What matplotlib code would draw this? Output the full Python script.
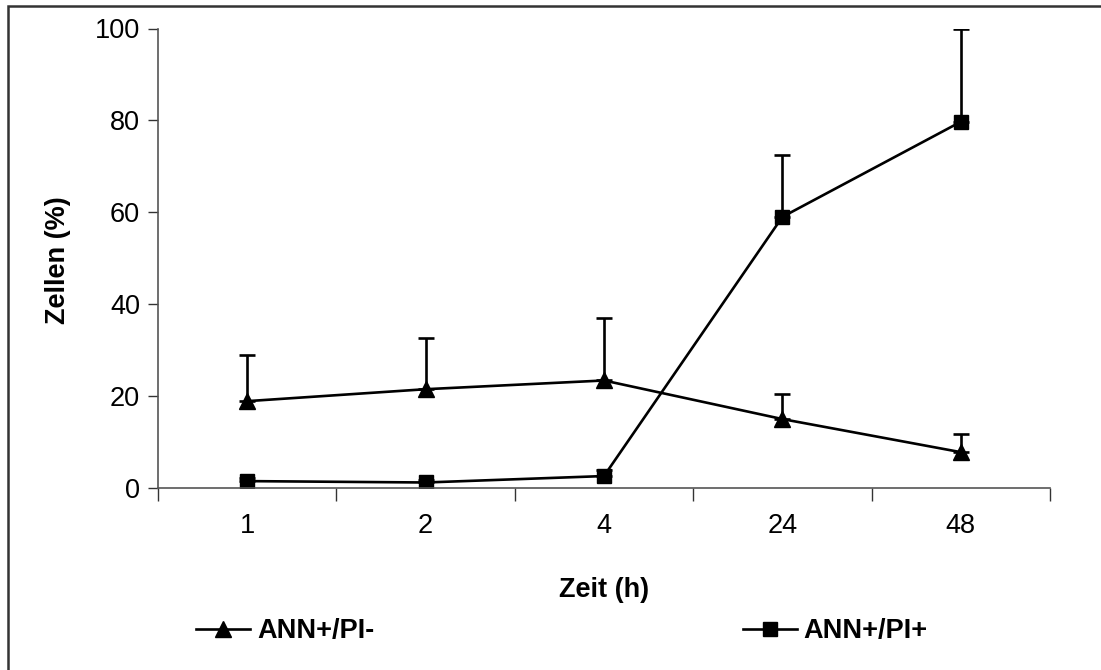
import numpy as np
import matplotlib.pyplot as plt
from matplotlib.patches import Rectangle

plt.rcParams['font.family'] = ['Liberation Sans', 'DejaVu Sans']

zeit = ['1', '2', '4', '24', '48']
pi_neg = [18.9, 21.5, 23.4, 15.0, 7.8]
pi_neg_err = [10.0, 11.2, 13.7, 5.4, 3.9]
pi_pos = [1.5, 1.2, 2.6, 59.0, 79.7]
pi_pos_err = [0.6, 0.5, 1.4, 13.5, 20.3]

fs = 19.5

fig = plt.figure(figsize=(11.01, 6.70), dpi=100)
ax = fig.add_axes([158 / 1101, 1 - 488 / 670, 892 / 1101, 459.5 / 670])

x = np.arange(len(zeit))
style = dict(color='black', lw=1.9, capsize=6, capthick=1.9, elinewidth=1.9)
c1 = ax.errorbar(x, pi_neg, yerr=[np.zeros(len(x)), pi_neg_err], marker='^',
                 markersize=12, label='ANN+/PI-', **style)
c2 = ax.errorbar(x, pi_pos, yerr=[np.zeros(len(x)), pi_pos_err], marker='s',
                 markersize=10.5, label='ANN+/PI+', **style)

ax.set_xlim(-0.5, len(zeit) - 0.5)
ax.set_ylim(0, 100)
ax.set_yticks(range(0, 101, 20))
ax.set_xticks(x)
ax.set_xticklabels(zeit)
ax.set_xticks(np.arange(-0.5, len(zeit), 1), minor=True)
ax.tick_params(axis='x', which='major', length=0, pad=18, labelsize=fs)
ax.tick_params(axis='x', which='minor', length=9, width=1, color='#333333', direction='out')
ax.tick_params(axis='y', length=7, width=1, color='#333333', pad=6, labelsize=fs)

for side in ['top', 'right']:
    ax.spines[side].set_visible(False)
for side in ['left', 'bottom']:
    ax.spines[side].set_color('#555555')
    ax.spines[side].set_linewidth(1.2)

ax.set_xlabel('Zeit (h)', fontsize=fs, fontweight='bold')
ax.set_ylabel('Zellen (%)', fontsize=fs, fontweight='bold')
ax.xaxis.set_label_coords(0.5, -0.194)
ax.yaxis.set_label_coords(-0.097, 0.496)

fig.legend(handles=[c1[0], c2[0]], labels=['ANN+/PI-', 'ANN+/PI+'],
           loc='center left', bbox_to_anchor=(196 / 1101, 1 - 631 / 670),
           ncol=2, frameon=False, borderpad=0, borderaxespad=0,
           handlelength=2.0, handletextpad=0.25, columnspacing=13.6,
           prop={'size': fs, 'weight': 'bold'})

fig.patches.append(Rectangle((8 / 1101, -0.1), 1.2, 1.1 - 5.5 / 670,
                             transform=fig.transFigure, fill=False,
                             edgecolor='#333333', lw=1.8))

fig.savefig('out.png', dpi=100)
